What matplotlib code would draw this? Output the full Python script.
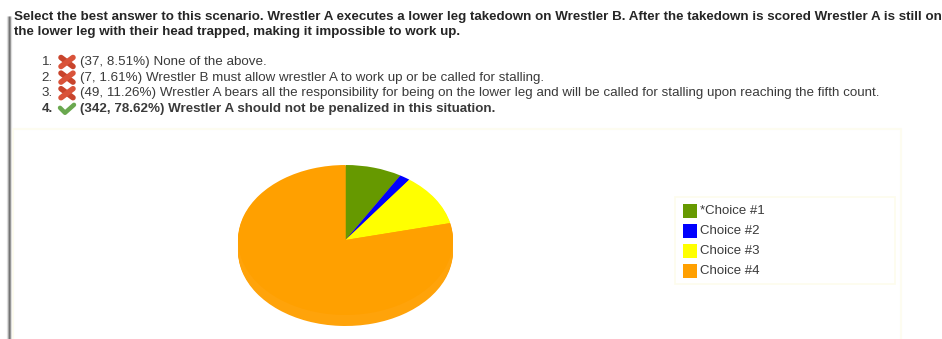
import matplotlib
matplotlib.use("Agg")
import matplotlib.pyplot as plt
from matplotlib.patches import Rectangle

plt.rcParams['font.family'] = ['Liberation Sans', 'DejaVu Sans']

W, H = 942, 339

question = ["Select the best answer to this scenario. Wrestler A executes a lower leg takedown on Wrestler B. After the takedown is scored Wrestler A is still on",
            "the lower leg with their head trapped, making it impossible to work up."]
counts = [37, 7, 49, 342]
percents = [8.51, 1.61, 11.26, 78.62]
answers = ["None of the above.",
           "Wrestler B must allow wrestler A to work up or be called for stalling.",
           "Wrestler A bears all the responsibility for being on the lower leg and will be called for stalling upon reaching the fifth count.",
           "Wrestler A should not be penalized in this situation."]
correct = [False, False, False, True]
legend_labels = ["*Choice #1", "Choice #2", "Choice #3", "Choice #4"]
colors = ["#669900", "#0000ff", "#ffff00", "#ffa000"]

TEXT = "#3a3a3a"
FS = 9.6

fig = plt.figure(figsize=(W / 100, H / 100), dpi=100, facecolor="white")

# page layer, axes units are pixels with y going down
page = fig.add_axes([0, 0, 1, 1])
page.set_xlim(0, W)
page.set_ylim(H, 0)
page.axis("off")

# shadow down the left edge of the screenshot
for x, c in [(6.5, "#e4e4e4"), (7.5, "#b0b0b0"), (8.5, "#707070"), (9.5, "#8c8c8c"), (10.5, "#dddddd")]:
    page.plot([x, x], [16, H], color=c, lw=0.9, solid_capstyle="butt")

for i, line in enumerate(question):
    page.text(14, 17 + i * 15.5, line, fontsize=FS, fontweight="bold", color="#262626", va="center")


def draw_cross(x, y):
    page.plot([x - 6, x + 6], [y - 4.5, y + 4.5], color="#c8442c", lw=4, solid_capstyle="round")
    page.plot([x - 6, x + 6], [y + 4.5, y - 4.5], color="#d9533a", lw=4, solid_capstyle="round")


def draw_check(x, y):
    page.plot([x - 7, x - 2, x + 7], [y - 1, y + 4, y - 4], color="#6aa84f", lw=3.2,
              solid_capstyle="round", solid_joinstyle="round")


for i, (n, p, a, ok) in enumerate(zip(counts, percents, answers, correct)):
    y = 62 + i * 15.6
    weight = "bold" if ok else "normal"
    page.text(53, y, f"{i + 1}.", fontsize=FS, color=TEXT, ha="right", va="center", fontweight=weight)
    if ok:
        draw_check(67, y)
    else:
        draw_cross(67, y)
    page.text(80, y, f"({n}, {p:.2f}%) {a}", fontsize=FS, color=TEXT, va="center", fontweight=weight)

# faint chart frame
page.plot([13, 13, 901, 901], [H, 129, 129, H], color="#fdfcf0", lw=1.5)
page.add_patch(Rectangle((675, 197), 220, 87, fc="white", ec="#fdfcec", lw=1.2))

for i, (label, c) in enumerate(zip(legend_labels, colors)):
    y = 204 + i * 20
    page.add_patch(Rectangle((683, y), 13.5, 13.5, fc=c, ec="none"))
    page.text(700, y + 7.5, label, fontsize=FS - 0.1, color=TEXT, va="center")

# pie squashed into an ellipse, repeated downwards for the thickness
DEPTH = 11
RY = 75
pie_ax = fig.add_axes([238 / W, 1 - (165 + 2 * RY + DEPTH) / H, 215 / W, (2 * RY + DEPTH) / H])
for d in range(DEPTH, 0, -1):
    pie_ax.pie(counts, colors=["#ffa30a"] * 4, startangle=90, counterclock=False, center=(0, -d / RY), radius=1)
pie_ax.pie(counts, colors=colors, startangle=90, counterclock=False, radius=1)
pie_ax.set_aspect("auto")
pie_ax.set_xlim(-1, 1)
pie_ax.set_ylim(-1 - DEPTH / RY, 1)
pie_ax.patch.set_alpha(0)

fig.savefig("out.png", dpi=100)
